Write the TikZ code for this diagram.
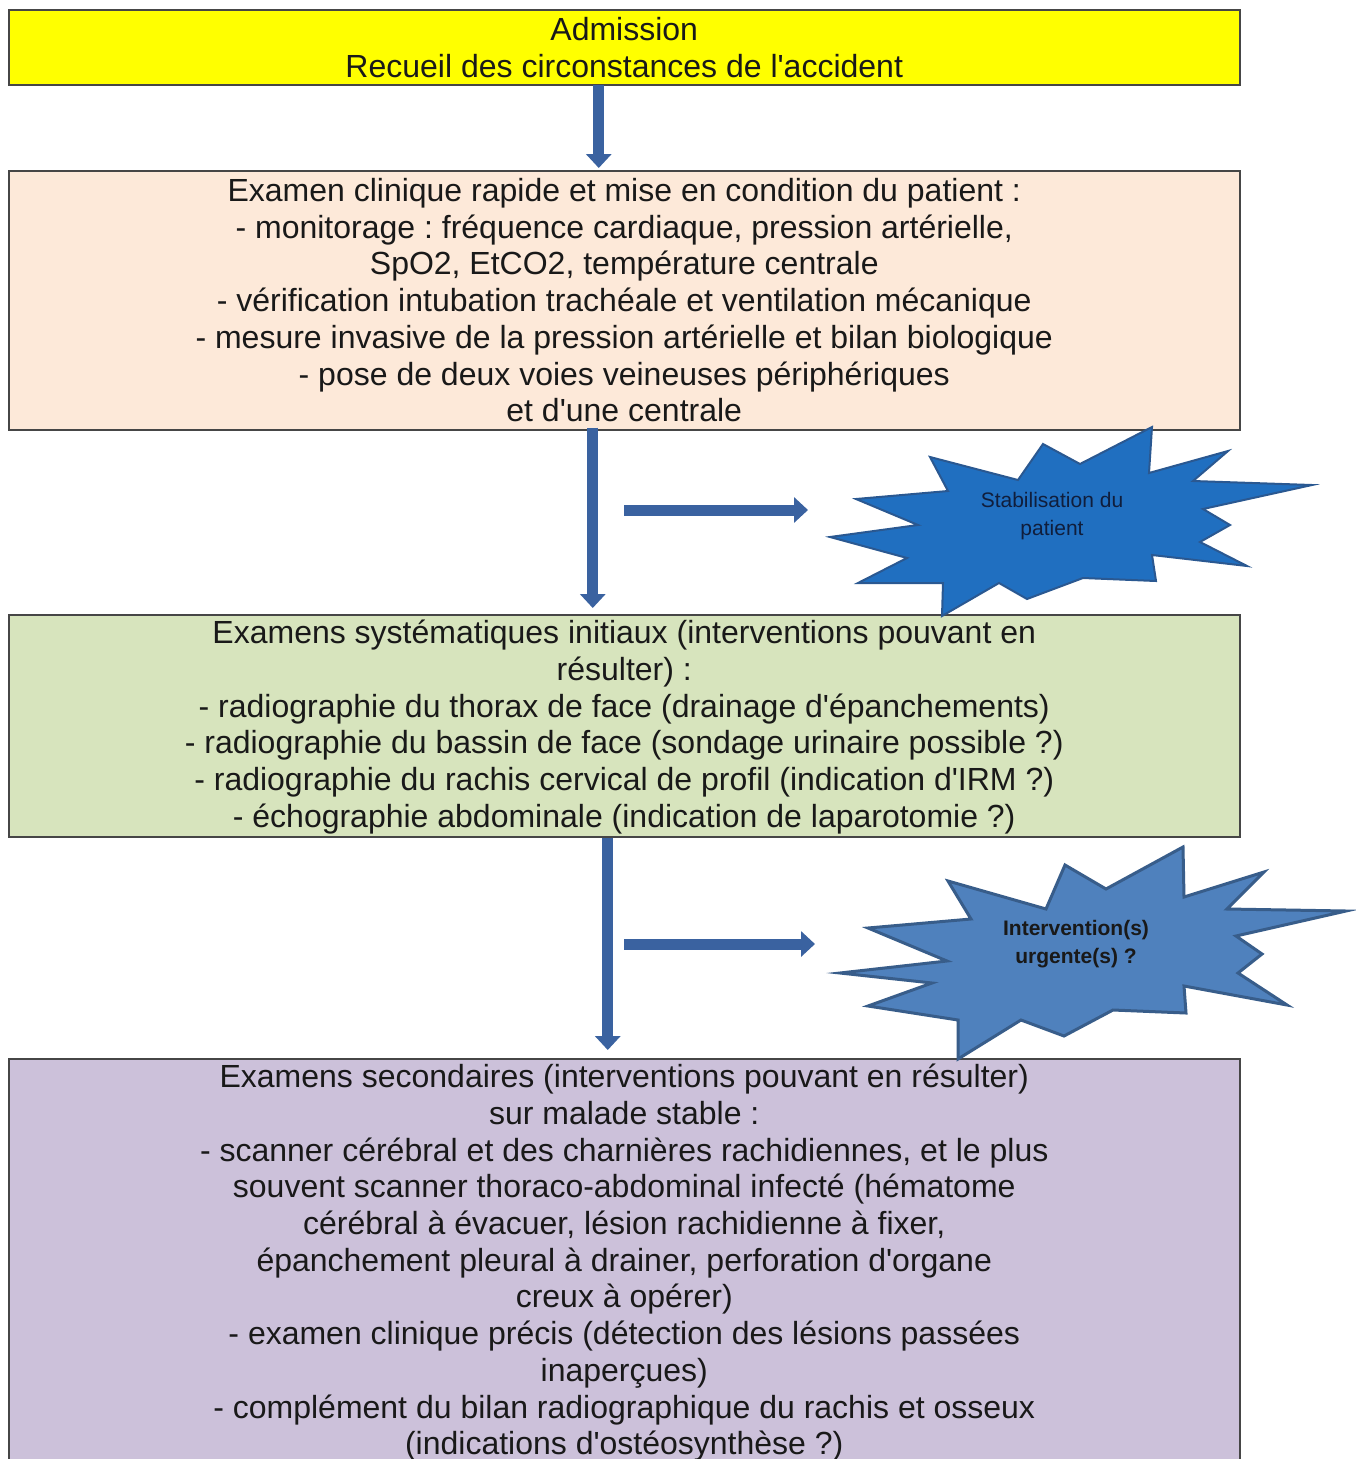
\documentclass[tikz,border=0pt]{standalone}
\usepackage{fontspec}
\setmainfont{Liberation Sans}
\usetikzlibrary{arrows.meta}
\frenchspacing
\newcommand{\aq}{\textquotesingle}
\definecolor{arrowblue}{RGB}{58,98,160}
\definecolor{boxline}{RGB}{70,70,70}
\definecolor{txt}{RGB}{25,25,25}
\definecolor{yellowbox}{RGB}{255,255,0}
\definecolor{peachbox}{RGB}{253,233,217}
\definecolor{greenbox}{RGB}{215,228,189}
\definecolor{purplebox}{RGB}{204,193,218}
\definecolor{starAfill}{RGB}{32,111,192}
\definecolor{starAline}{RGB}{42,88,145}
\definecolor{starBfill}{RGB}{79,129,189}
\definecolor{starBline}{RGB}{56,93,138}
\definecolor{startxt}{RGB}{16,30,60}
\tikzset{
  flowbox/.style={draw=boxline, line width=1.5pt, minimum width=1231pt, inner sep=0pt,
    anchor=north west, align=center, text=txt, font=\fontsize{32}{36.7}\selectfont},
  blockarrow/.style={draw=arrowblue, line width=11pt,
    -{Triangle[width=25pt,length=14pt]}},
  burstA/.style={fill=starAfill, draw=starAline, line width=2pt, line join=miter},
  burstB/.style={fill=starBfill, draw=starBline, line width=3pt, line join=miter},
  bursttext/.style={align=center, font=\fontsize{21}{28}\selectfont, text=startxt}
}
\begin{document}
\begin{tikzpicture}[x=1pt,y=-1pt]
\clip (0,0) rectangle (1356,1459);
\fill[white] (0,0) rectangle (1356,1459);

% boxes
\node[flowbox, fill=yellowbox, minimum height=75pt] (a) at (8,9)
  {Admission\\Recueil des circonstances de l\aq accident};
\node[flowbox, fill=peachbox, minimum height=259pt] (b) at (8,170)
  {Examen clinique rapide et mise en condition du patient :\\
   - monitorage : fréquence cardiaque, pression artérielle,\\
   SpO2, EtCO2, température centrale\\
   - vérification intubation trachéale et ventilation mécanique\\
   - mesure invasive de la pression artérielle et bilan biologique\\
   - pose de deux voies veineuses périphériques\\
   et d\aq une centrale};
\node[flowbox, fill=greenbox, minimum height=222pt] (c) at (8,614)
  {\rule{0pt}{26pt}Examens systématiques initiaux (interventions pouvant en\\
   résulter) :\\
   - radiographie du thorax de face (drainage d\aq épanchements)\\
   - radiographie du bassin de face (sondage urinaire possible ?)\\
   - radiographie du rachis cervical de profil (indication d\aq IRM ?)\\
   - échographie abdominale (indication de laparotomie ?)};
\node[flowbox, fill=purplebox, minimum height=408pt] (d) at (8,1058)
  {Examens secondaires (interventions pouvant en résulter)\\
   sur malade stable :\\
   - scanner cérébral et des charnières rachidiennes, et le plus\\
   souvent scanner thoraco-abdominal infecté (hématome\\
   cérébral à évacuer, lésion rachidienne à fixer,\\
   épanchement pleural à drainer, perforation d\aq organe\\
   creux à opérer)\\
   - examen clinique précis (détection des lésions passées\\
   inaperçues)\\
   - complément du bilan radiographique du rachis et osseux\\
   (indications d\aq ostéosynthèse ?)};

% vertical connectors
\draw[blockarrow] ([xshift=-25.5pt,yshift=1pt]a.south) -- ([xshift=-25.5pt,yshift=2pt]b.north);
\draw[blockarrow] ([xshift=-31.5pt,yshift=3pt]b.south) -- ([xshift=-31.5pt,yshift=6pt]c.north);
\draw[blockarrow] ([xshift=-16.5pt,yshift=0pt]c.south) -- ([xshift=-16.5pt,yshift=8pt]d.north);

% bursts
\draw[burstA] (830,537) -- (918,525) -- (856,499) -- (948,491) -- (930,457)
  -- (1018,480) -- (1043,444) -- (1080,464) -- (1152,427) -- (1149,473)
  -- (1228,451) -- (1193,481) -- (1312,485) -- (1203,509) -- (1230,525)
  -- (1200,542) -- (1247,566) -- (1152,555) -- (1156,581) -- (1083,578)
  -- (1027,599) -- (999,583) -- (942,616) -- (943,583) -- (858,583)
  -- (907,558) -- cycle;
\node[bursttext] (s1) at (1052,516) {Stabilisation du\\patient};

\draw[burstB] (840,973) -- (947,961) -- (868,928) -- (971,919) -- (948,881)
  -- (1046,909) -- (1065,865) -- (1106,889) -- (1183,847) -- (1184,897)
  -- (1264,872) -- (1227,909) -- (1346,911) -- (1236,936) -- (1262,954)
  -- (1238,973) -- (1287,1005) -- (1184,986) -- (1186,1013) -- (1113,1010)
  -- (1064,1036) -- (1021,1020) -- (958,1059) -- (958,1020) -- (868,1006)
  -- (932,983) -- cycle;
\node[bursttext, font=\fontsize{21}{28}\selectfont\bfseries, text=txt] (s2) at (1076,944)
  {Intervention(s)\\urgente(s) ?};

% side connectors
\coordinate (h1s) at (624,510);
\coordinate (h1e) at (808,510);
\coordinate (h2s) at (624,944);
\coordinate (h2e) at (815,944);
\draw[blockarrow] (h1s) -- (h1e);
\draw[blockarrow] (h2s) -- (h2e);
\end{tikzpicture}
\end{document}
